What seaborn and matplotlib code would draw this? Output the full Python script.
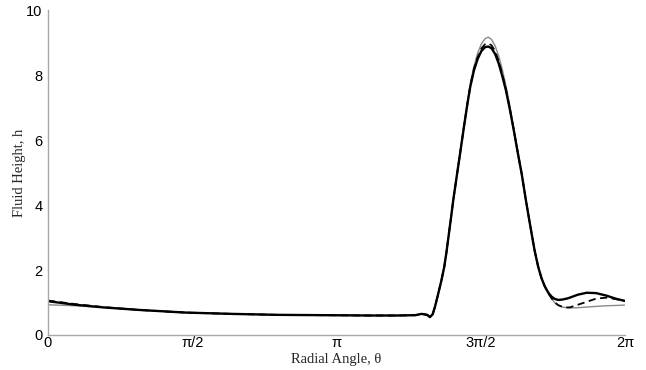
import numpy as np
import pandas as pd
import seaborn as sns
import matplotlib
matplotlib.use("Agg")
import matplotlib.pyplot as plt

# Radial angle samples (radians)
theta = [0.0, 0.3, 0.6, 1.0, 1.5, 2.0, 2.5, 3.0, 3.5, 3.8,
         4.0, 4.07, 4.13, 4.16, 4.19, 4.215, 4.251, 4.285, 4.316, 4.34,
         4.367, 4.39, 4.414, 4.45, 4.49, 4.53, 4.57, 4.60, 4.64, 4.68,
         4.72, 4.76, 4.795, 4.83, 4.87, 4.91, 4.95, 4.987, 5.03, 5.07,
         5.118, 5.16, 5.205, 5.235, 5.267, 5.30, 5.339, 5.375, 5.412, 5.45,
         5.485, 5.52, 5.557, 5.60, 5.65, 5.684, 5.77, 5.866, 5.97, 6.084,
         6.193, 6.283]

# Fluid height, thin grey solution
h_grey = [0.93, 0.90, 0.85, 0.77, 0.69, 0.65, 0.62, 0.61, 0.60, 0.60,
          0.61, 0.65, 0.62, 0.55, 0.64, 0.87, 1.28, 1.68, 2.10, 2.55,
          3.13, 3.62, 4.15, 4.85, 5.62, 6.45, 7.2, 7.75, 8.28, 8.68,
          8.96, 9.12, 9.17, 9.10, 8.90, 8.58, 8.15, 7.68, 7.05, 6.40,
          5.62, 4.95, 4.15, 3.65, 3.13, 2.6, 2.10, 1.75, 1.49, 1.27,
          1.12, 0.99, 0.91, 0.86, 0.84, 0.83, 0.84, 0.86, 0.88, 0.90,
          0.91, 0.92]

# Fluid height, dashed solution
h_dashed = [1.06, 0.95, 0.86, 0.77, 0.69, 0.65, 0.62, 0.61, 0.60, 0.60,
            0.61, 0.65, 0.62, 0.55, 0.64, 0.87, 1.28, 1.68, 2.10, 2.55,
            3.13, 3.62, 4.15, 4.85, 5.62, 6.4, 7.15, 7.68, 8.2, 8.55,
            8.82, 8.95, 8.98, 8.92, 8.74, 8.42, 8.0, 7.58, 6.97, 6.36,
            5.59, 4.95, 4.15, 3.65, 3.13, 2.6, 2.10, 1.75, 1.49, 1.28,
            1.13, 1.00, 0.92, 0.87, 0.85, 0.85, 0.93, 1.02, 1.12, 1.15,
            1.10, 1.05]

# Fluid height, thick black solution
h_black = [1.04, 0.93, 0.85, 0.77, 0.69, 0.65, 0.62, 0.61, 0.60, 0.60,
           0.61, 0.65, 0.62, 0.55, 0.64, 0.87, 1.28, 1.68, 2.10, 2.55,
           3.13, 3.62, 4.15, 4.85, 5.62, 6.4, 7.15, 7.65, 8.15, 8.5,
           8.74, 8.86, 8.88, 8.83, 8.65, 8.35, 7.95, 7.54, 6.95, 6.35,
           5.59, 4.95, 4.15, 3.65, 3.13, 2.6, 2.10, 1.75, 1.49, 1.30,
           1.18, 1.11, 1.08, 1.09, 1.12, 1.15, 1.24, 1.30, 1.29, 1.21,
           1.11, 1.05]

xtick_vals = [0, np.pi / 2, np.pi, 3 * np.pi / 2, 2 * np.pi]
xtick_labels = ["0", "π/2", "π", "3π/2", "2π"]
ytick_vals = [0, 2, 4, 6, 8, 10]

sns.set_style("white")
plt.rcParams["font.family"] = ["Liberation Sans", "DejaVu Sans"]

fig = plt.figure(figsize=(6.46, 3.70), dpi=100)
ax = fig.add_axes([0.0743, 0.0946, 0.893, 0.878])

sns.lineplot(x=theta, y=h_grey, ax=ax, color="#8a8a8a", linewidth=1.0,
             sort=False, estimator=None)
sns.lineplot(x=theta, y=h_dashed, ax=ax, color="black", linewidth=1.3,
             linestyle=(0, (4, 2.5)), sort=False, estimator=None)
sns.lineplot(x=theta, y=h_black, ax=ax, color="black", linewidth=1.7,
             sort=False, estimator=None)

ax.set_xlim(0, 2 * np.pi)
ax.set_ylim(0, 10)
ax.set_xticks(xtick_vals)
ax.set_xticklabels(xtick_labels)
ax.set_yticks(ytick_vals)

for side in ("top", "right"):
    ax.spines[side].set_visible(False)
for side in ("left", "bottom"):
    ax.spines[side].set_color("#a8a8a8")
    ax.spines[side].set_linewidth(1.0)

ax.tick_params(axis="both", direction="in", length=4, width=0.8,
               color="#a8a8a8", labelsize=10.5, labelcolor="black")
ax.tick_params(axis="x", pad=1)
ax.tick_params(axis="y", pad=4)

serif = ["Liberation Serif", "DejaVu Serif"]
ax.set_xlabel("Radial Angle, θ", family=serif, fontsize=10.5)
ax.xaxis.set_label_coords(0.5, -0.056)
ax.xaxis.label.set_verticalalignment("top")
ax.set_ylabel("Fluid Height, h", family=serif, fontsize=10.5, labelpad=0)

fig.savefig("out.png", dpi=100)
